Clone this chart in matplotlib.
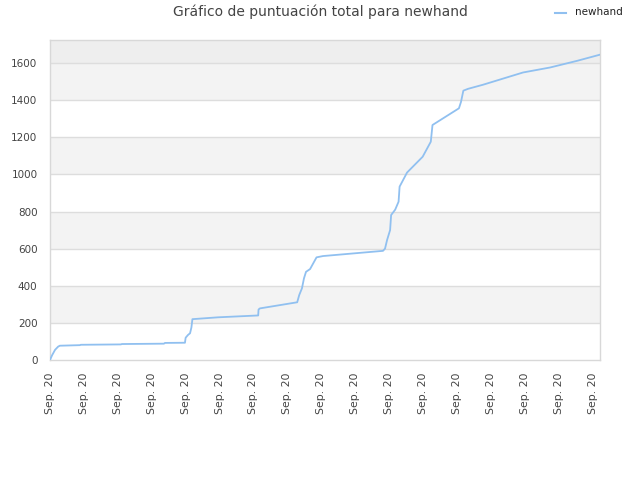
import matplotlib
matplotlib.use("Agg")
import matplotlib.pyplot as plt
from matplotlib.lines import Line2D

title = "Gráfico de puntuación total para newhand"
series_name = "newhand"
tick_labels = ["Sep. 20"] * 17
tick_pos = list(range(17))

x_vals = [0, 0.06, 0.15, 0.24, 0.29, 0.88, 0.91, 2.09, 2.12, 3.36, 3.39, 3.98, 4.00,
          4.07, 4.13, 4.17, 4.20, 4.96, 6.14, 6.15, 6.19, 7.29, 7.35, 7.43, 7.49, 7.55,
          7.67, 7.86, 8.05, 9.06, 9.82, 9.88, 9.94, 10.03, 10.06, 10.18, 10.28, 10.31,
          10.53, 10.99, 11.23, 11.28, 12.06, 12.12, 12.19, 12.33, 12.77, 13.36, 13.95,
          14.75, 15.55, 16.22]
y_vals = [0, 25, 55, 72, 77, 80, 82, 84, 86, 88, 92, 93, 120,
          135, 144, 175, 220, 230, 240, 272, 278, 311, 350, 386, 440, 475,
          490, 553, 560, 576, 588, 600, 646, 700, 781, 810, 853, 934,
          1010, 1095, 1176, 1266, 1356, 1390, 1451, 1461, 1483, 1516, 1549,
          1576, 1612, 1645]

line_color = "#90c0f0"
text_color = "#444444"

fig = plt.figure(figsize=(6.4, 4.8), dpi=100)
ax = fig.add_axes([50/640, 120/480, 550/640, 320/480])

ymax = 1724
ax.set_ylim(0, ymax)
ax.set_xlim(0, 16.22)

# background bands
for lo in range(0, 1600, 200):
    if (lo // 200) % 2 == 1:
        ax.axhspan(lo, lo + 200, color="#f3f3f3", zorder=0, lw=0)
ax.axhspan(1600, ymax, color="#eeeeee", zorder=0, lw=0)
for g in range(200, 1601, 200):
    ax.axhline(g, color="#dddddd", lw=1, zorder=1)

ax.plot(x_vals, y_vals, color=line_color, lw=1.3, zorder=3)

ax.set_yticks(range(0, 1601, 200))
ax.set_xticks(tick_pos)
ax.set_xticklabels(tick_labels, rotation=90)
ax.tick_params(axis="both", length=0, colors=text_color)
ax.tick_params(axis="x", pad=9, labelsize=7.8)
ax.tick_params(axis="y", pad=9, labelsize=7.5)
for s in ax.spines.values():
    s.set_color("#d8d8d8")
    s.set_linewidth(1)

fig.text(0.5, 1 - 12/480, title, ha="center", va="center", fontsize=10, color=text_color)
fig.add_artist(Line2D([555/640, 566/640], [1 - 13/480, 1 - 13/480], color=line_color, lw=1.5))
fig.text(575/640, 1 - 12/480, series_name, ha="left", va="center", fontsize=7.5, color="#222222")

fig.savefig("out.png", dpi=100)
